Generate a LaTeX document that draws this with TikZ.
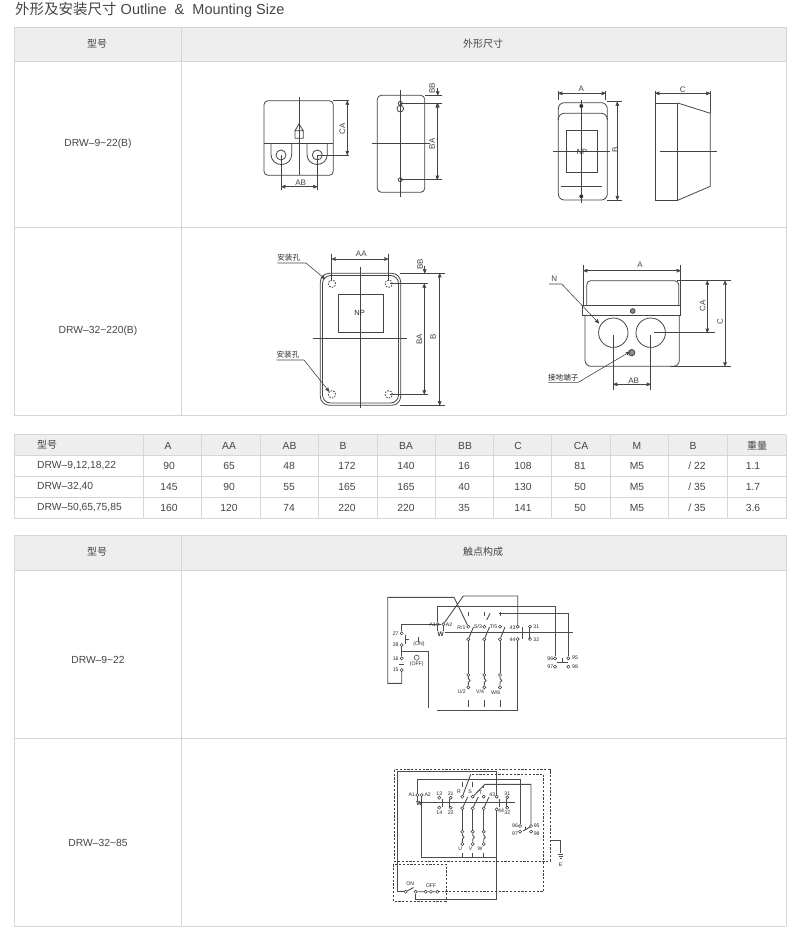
\documentclass[tikz,border=0pt]{standalone}
\usepackage{fontspec}
\setmainfont{Liberation Sans}
\newfontfamily\cjk{Noto Sans CJK SC}
\usetikzlibrary{arrows,positioning}
\definecolor{inkgray}{HTML}{444444}
\definecolor{tablegray}{HTML}{D6D6D6}
\definecolor{headgray}{HTML}{EEEEEE}
\tikzset{part/.style={draw=inkgray,line width=0.8pt},
         center line/.style={draw=inkgray,line width=0.6pt},
         ext line/.style={draw=inkgray,line width=0.5pt},
         dim line/.style={draw=inkgray,line width=0.6pt,<->,>=stealth'},
         leader/.style={draw=inkgray,line width=0.6pt,->,>=stealth'},
         dim label/.style={font=\fontsize{8}{8}\selectfont,text=inkgray,inner sep=0pt},
         np label/.style={font=\fontsize{7.5}{8}\selectfont,text=black!85,inner sep=0pt},
         cjk label/.style={font=\cjk\fontsize{7.6}{8}\selectfont,text=black!85,inner sep=0pt},
         table line/.style={draw=tablegray,line width=0.8pt},
         table text/.style={font=\fontsize{10.3}{10}\selectfont,text=inkgray,inner sep=0pt},
         table cjk/.style={font=\cjk\fontsize{10}{10}\selectfont,text=inkgray,inner sep=0pt},
         wire/.style={draw=black!70,line width=0.9pt},
         dash box/.style={draw=black!75,line width=0.8pt,dash pattern=on 2.2pt off 1.6pt},
         term/.style={circle,draw=black!80,fill=white,line width=0.5pt,minimum size=3.2pt,inner sep=0pt},
         tiny label/.style={font=\fontsize{5.2}{5}\selectfont,text=black!85,inner sep=0pt},
}
\begin{document}
\begin{tikzpicture}[x=1pt,y=-1pt]
\useasboundingbox (0,0) rectangle (800,941);
% title
\node[anchor=west,inner sep=0pt,text=inkgray,font=\fontsize{14.5}{15}\selectfont] (title) at (15,10)
    {{\cjk 外形及安装尺寸} Outline\ \ \&\ \ Mounting Size};
% the three tables
\fill[headgray] (14,27) rectangle (786,61);
\fill[headgray] (14,435) rectangle (786,455.5);
\fill[headgray] (14,535) rectangle (786,570);
\foreach \y in {27,61,227,415,535,570,738,926}
    \draw[table line] (14,\y) -- (786,\y);
\draw[table line] (14,27) -- (14,415) (181,27) -- (181,415) (786,27) -- (786,415);
\draw[table line] (14,535) -- (14,926) (181,535) -- (181,926) (786,535) -- (786,926);
\foreach \y in {434.5,455.5,476.5,497.5,518.5}
    \draw[table line] (14,\y) -- (786,\y);
\foreach \x in {14,143.5,201.5,260,318.5,377,435.5,493.5,551.5,610.5,668.5,727,786}
    \draw[table line] (\x,434.5) -- (\x,518.5);
\node[table cjk] (headA) at (97,44) {型号};
\node[table cjk] (headB) at (483,44) {外形尺寸};
\node[table cjk] (headC) at (97,551.5) {型号};
\node[table cjk] (headD) at (483,551.5) {触点构成};
\node[table text] (typeA) at (98,143.5) {DRW–9\textasciitilde22(B)};
\node[table text] (typeB) at (98,331) {DRW–32\textasciitilde220(B)};
\node[table text] (typeC) at (98,660) {DRW–9\textasciitilde22};
\node[table text] (typeD) at (98,843) {DRW–32\textasciitilde85};
% size table
\node[table cjk,anchor=west] (rowA) at (37,445) {型号};
\node[table text,anchor=west] (rowB) at (37,466) {DRW–9,12,18,22};
\node[table text,anchor=west] (rowC) at (37,487) {DRW–32,40};
\node[table text,anchor=west] (rowD) at (37,508) {DRW–50,65,75,85};
\foreach \lab/\x [count=\i] in {A/168,AA/229,AB/289.5,B/343,BA/406,BB/465,C/518,CA/581,M/637,B/693}
    \node[table text] (hd\i) at (\x,445.5) {\lab};
\node[table cjk] (hd11) at (757,445.5) {重量};
\foreach \a/\b/\c/\d/\e/\f/\g/\h/\m/\n/\w/\y [count=\r] in
    {90/65/48/172/140/16/108/81/M5/{/ 22}/1.1/466,
     145/90/55/165/165/40/130/50/M5/{/ 35}/1.7/487,
     160/120/74/220/220/35/141/50/M5/{/ 35}/3.6/508}{
    \node[table text] (v\r a) at (169,\y) {\a};
    \node[table text] (v\r b) at (229,\y) {\b};
    \node[table text] (v\r c) at (289,\y) {\c};
    \node[table text] (v\r d) at (347,\y) {\d};
    \node[table text] (v\r e) at (406,\y) {\e};
    \node[table text] (v\r f) at (464,\y) {\f};
    \node[table text] (v\r g) at (523,\y) {\g};
    \node[table text] (v\r h) at (580,\y) {\h};
    \node[table text] (v\r m) at (637,\y) {\m};
    \node[table text] (v\r n) at (697,\y) {\n};
    \node[table text] (v\r w) at (753,\y) {\w};
}
% DRW-9~22(B), left view
\draw[part,rounded corners=4pt] (264,100.7) rectangle (333.3,175.3);
\draw[part] (264,143.3) -- (333.3,143.3);
\draw[part,rounded corners=10pt] (271,143.3) -- (271,164.5) -- (291.7,164.5) -- (291.7,143.3);
\draw[part,rounded corners=10pt] (307,143.3) -- (307,164.5) -- (327.3,164.5) -- (327.3,143.3);
\draw[part] (281,155) circle (5pt) (317.3,155) circle (5pt);
\draw[part] (295,130.7) -- (299,124) -- (303.3,130.7) -- cycle (295,130.7) rectangle (303.3,138.3);
\draw[center line] (299,97) -- (299,175);
\draw[ext line] (281.3,155) -- (281.3,190) (317.3,155) -- (317.3,190);
\draw[ext line] (333,100.7) -- (348.5,100.7) (317.3,155) -- (348.5,155);
\draw[dim line] (281.3,186.7) -- (317.3,186.7);
\draw[dim line] (347.3,100.7) -- (347.3,155);
\node[dim label] (abA) at (300.7,182.3) {AB};
\node[dim label,rotate=90] (caA) at (342.3,129) {CA};
% DRW-9~22(B), second view
\draw[part,rounded corners=4pt] (377.3,95.3) rectangle (424.7,192.3);
\draw[center line] (400.3,90) -- (400.3,197.3) (371.7,143.7) -- (430,143.7);
\draw[part] (400.3,103.3) circle (2pt) (400.3,108.7) circle (3.3pt) (400.3,179.7) circle (2pt);
\draw[ext line] (400.3,103.3) -- (441.7,103.3) (400.3,179.7) -- (441.7,179.7) (424.7,95.3) -- (441.7,95.3);
\draw[dim line] (437.3,103.3) -- (437.3,179.7);
\draw[leader] (437.7,88) -- (437.7,95.3);
\draw[leader] (437.7,110) -- (437.7,103.3);
\node[dim label,rotate=90] (bbA) at (432,88.3) {BB};
\node[dim label,rotate=90] (baA) at (432,144) {BA};
% DRW-9~22(B), front
\draw[part,rounded corners=6pt] (558.3,102.7) rectangle (607.3,200);
\draw[part,rounded corners=6pt] (558.3,120) -- (558.3,113.3) -- (607.3,113.3) -- (607.3,120);
\draw[part] (566,130.3) rectangle (597.3,172);
\draw[part] (561,186.7) -- (602,186.7);
\draw[center line] (581.3,100) -- (581.3,203.3) (553.3,151) -- (610,151);
\fill[black!80] (581.3,106) circle (2pt) (581.3,196.3) circle (2pt);
\node[np label] (npA) at (582,151.7) {NP};
\draw[ext line] (558.3,90.7) -- (558.3,100) (605.7,90.7) -- (605.7,100);
\draw[ext line] (607,101.7) -- (621.7,101.7) (607,200) -- (621.7,200);
\draw[dim line] (558.3,93.3) -- (605.7,93.3);
\draw[dim line] (617.3,101.7) -- (617.3,200);
\node[dim label] (aA) at (581.3,89) {A};
\node[dim label,rotate=90] (bA) at (615,150) {B};
% DRW-9~22(B), side
\draw[part] (655.3,103) rectangle (677.7,200.3);
\draw[part] (677.7,103) -- (710.3,113.3) -- (710.3,186.3) -- (677.7,200.3);
\draw[center line] (659.7,151.7) -- (717,151.7);
\draw[ext line] (655.3,90.7) -- (655.3,103) (710.3,90.7) -- (710.3,113.3);
\draw[dim line] (655.3,93.3) -- (710.3,93.3);
\node[dim label] (cA) at (682.7,90) {C};
% DRW-32~220(B), left view
\draw[part,rounded corners=9pt] (320.3,273.3) rectangle (400.7,405.3);
\draw[part,rounded corners=8pt] (322.5,275.5) rectangle (398.5,403);
\draw[part] (338,294.3) rectangle (383.7,332.7);
\draw[center line] (360.7,266.7) -- (360.7,408.3) (313.3,338.3) -- (407.3,338.3);
\node[np label] (npB) at (359.7,313.3) {NP};
\foreach \x/\y in {332/283.7,388.7/283.7,332/394.3,388.7/394.3}
    \draw[part,dash pattern=on 1.6pt off 1.2pt] (\x,\y) circle (3.7pt);
\draw[ext line] (331.7,253.7) -- (331.7,281) (388.3,253.7) -- (388.3,281);
\draw[ext line] (400,273.3) -- (445,273.3) (400,405.3) -- (445,405.3);
\draw[ext line] (390,283.7) -- (428.3,283.7) (390,394.3) -- (428.3,394.3);
\draw[dim line] (331.7,259) -- (388.3,259);
\draw[dim line] (424.3,283.7) -- (424.3,394.3);
\draw[dim line] (439.7,273.3) -- (439.7,405.3);
\draw[leader] (424.7,266) -- (424.7,273.3);
\node[dim label] (aaB) at (361.3,253.3) {AA};
\node[dim label,rotate=90] (bbB) at (420,264.3) {BB};
\node[dim label,rotate=90] (baB) at (419.3,339) {BA};
\node[dim label,rotate=90] (bB) at (433,337) {B};
\node[cjk label] (holeA) at (288.7,258) {安装孔};
\node[cjk label] (holeB) at (288,354.3) {安装孔};
\draw[leader] (277.3,263) -- (306,263) -- (325,279);
\draw[leader] (276.7,360) -- (304,360) -- (329.3,391.7);
% DRW-32~220(B), right view
\draw[part,rounded corners=4pt] (586.7,305.7) -- (586.7,280.7) -- (678.7,280.7) -- (678.7,305.7);
\draw[part] (582.7,305.7) rectangle (680.7,315.7);
\draw[part,rounded corners=6pt] (585,315.7) -- (585,366.3) -- (679.3,366.3) -- (679.3,315.7);
\draw[part] (613.3,332.7) circle (14.7pt) (650.7,332.7) circle (14.7pt);
\draw[part,fill=black!45] (632.7,311) circle (2.4pt) (631.7,352.7) circle (3.2pt);
\draw[ext line] (583.3,265) -- (583.3,305.7) (680.7,265) -- (680.7,305.7);
\draw[ext line] (677,280.7) -- (730.7,280.7) (654,332.7) -- (715,332.7) (670,366.3) -- (730.7,366.3);
\draw[ext line] (613.3,335) -- (613.3,390) (650.7,335) -- (650.7,390);
\draw[dim line] (583.3,270.7) -- (680.7,270.7);
\draw[dim line] (707.3,280.7) -- (707.3,332.7);
\draw[dim line] (725,280.7) -- (725,366.3);
\draw[dim line] (613.3,384.3) -- (650.7,384.3);
\node[dim label] (aB) at (640,265) {A};
\node[dim label,rotate=90] (caB) at (702.7,305.7) {CA};
\node[dim label,rotate=90] (cB) at (720,321.7) {C};
\node[dim label] (abB) at (633.7,381) {AB};
\node[dim label] (nB) at (554.3,279) {N};
\node[cjk label] (gndB) at (563.3,377.3) {接地端子};
\draw[leader] (549,284) -- (561.7,284) -- (599,323.3);
\draw[leader] (548.3,382.3) -- (578.3,382.3) -- (630,351.7);
% contact diagram DRW-9~22
\foreach \name/\x/\y in {p27/401.7/633.3,p28/401.7/645,p16/401.7/658.3,p15/401.7/670,
    pa/437.7/624.3,pb/443.3/624.3,pr/468.3/626.7,ps/484.3/626.7,pt/500/626.7,
    pu/468.3/639.3,pv/484.3/639.3,pw/500/639.3,
    pe/468.3/675,pf/484.3/675,pg/500/675,ph/468.3/687.3,pi/484.3/687.3,pj/500/687.3,
    p43/517.7/626.7,p44/517.7/639,p31/530/626.7,p32/530/639,
    p96/555/658.3,p95/568.3/658.3,p97/555/666.7,p98/568.3/666.7}
    \node[term] (\name) at (\x,\y) {};
\node[term,minimum size=5pt] (poff) at (416.7,657.7) {};
\draw[wire] (p15) |- (387.7,683.3) -- (387.7,597.3) -- (454,597.3) -- (pr);
\draw[wire] (p27) |- (pb);
\draw[wire] (pa) |- (555,606.7) -- (p96);
\draw[wire] (pb) -- (463.3,596) -| (p43);
\draw[wire] (499,613.3) -| (p95);
\draw[wire] (p44) |- (436.7,710);
\draw[wire] (401.7,651.7) -| (428.3,708.3);
\draw[wire] (p28) -- (p16);
\draw[wire] (405,634.5) -- (405,644) (405,639.5) -- (408.5,639.5) (418.3,636.7) -- (418.3,641.7);
\draw[wire] (399,664) -- (404,664);
\draw[wire] (pa) -- (437.7,631) (pb) -- (443.3,631) (445,632.7) -- (572.7,632.7);
\draw[wire] (pu) -- (473.5,627) (pv) -- (489.5,627) (pw) -- (505,627);
\foreach \a/\b/\c/\d in {pu/pe/pe/ph,pv/pf/pf/pi,pw/pg/pg/pj}{
    \draw[wire] (\a) -- (\b);
    \draw[wire] (\c) -- ++(0,3.5) -- ++(1.8,2) -- ++(-1.8,2) -- (\d);
}
\foreach \x in {468.3,484.3,500}{
    \draw[wire] (\x,611.7) -- (\x,616) (\x,700) -- (\x,707.3);
}
\draw[wire] (486.7,620) -- (490,613.3);
\draw[wire] (522.3,626.7) -- (522.3,639) (529,627) -- (529,639);
\draw[wire] (556.5,662.7) -- (567.5,662.7) (562,658.3) -- (562,662.7);
\node[font=\bfseries\fontsize{6.5}{6.5}\selectfont,text=black!80,inner sep=0pt] (coilA) at (440.7,634.3) {W};
\foreach \lb/\x/\y [count=\i] in {27/395.7/633.3,28/395.7/645,16/395.7/658.3,15/395.7/670,A1/432.5/624.3,A2/449/624.3,
    {R/1}/461.5/627.3,{S/3}/478/626.7,{T/5}/493.5/626.7,43/512.5/627.3,44/512.5/639.5,31/536.3/626.7,32/536.3/639.3,
    96/550.3/658.7,95/575/658,97/550.3/667,98/575/667,{U/2}/461.7/691.7,{V/4}/480/691.7,{W/6}/495.7/692.3,
    (ON)/419/644,(OFF)/416.7/664}
    \node[tiny label] (pl\i) at (\x,\y) {\lb};
% contact diagram DRW-32~85
\foreach \name/\x/\y in {qa/417.3/795,qb/421.7/795,q13/439.3/797.7,q14/439.3/807.7,q21/450.7/797.7,q22/450.7/807.7,
    qr/462.3/796.7,qs/472.7/796.7,qt/483.7/796.7,qu/462.3/808.3,qv/472.7/808.3,qw/483.7/808.3,
    qe/462.3/831.7,qf/472.7/831.7,qg/483.7/831.7,qh/462.3/844,qi/472.7/844,qj/483.7/844,
    q43/496.7/796.7,q44/496.7/809.3,q31/507.3/797.3,q32/507.3/807.7,
    q96/520/826,q95/531/826,q97/520/831.7,q98/531/831.7,
    qon/405.7/891.7,qoa/415.7/891.7,qob/425.7/891.7,qoc/431/891.7,qof/437.3/891.7}
    \node[term] (\name) at (\x,\y) {};
\draw[wire] (qon) -- (397.3,891.7) |- (496.7,771.7) -- (q43);
\draw[wire] (qa) |- (520,779) -- (q96);
\draw[wire] (421.7,803) |- (496.7,857.7) -- (q44);
\draw[wire] (qb) -- (421.7,802) (qa) -- (417.3,802) (419,802.7) -- (515,802.7);
\draw[wire] (qoa) -- (415.7,899.3) -| (496.7,857.7);
\draw[wire] (qon) -- (413.5,887.5) (qoa) -- (qob) (qob) -- (qoc) (qoc) -- (qof);
\draw[wire] (470.7,774.3) -- (qr);
\draw[wire] (qs) -- (485,784.3) -| (q95);
\draw[wire] (qu) -- (467.7,797) (qv) -- (478.3,797) (qw) -- (489,797);
\foreach \a/\b/\c/\d in {qu/qe/qe/qh,qv/qf/qf/qi,qw/qg/qg/qj}{
    \draw[wire] (\a) -- (\b);
    \draw[wire] (\c) -- ++(0,3.5) -- ++(1.6,2) -- ++(-1.6,2) -- (\d);
}
\foreach \x in {462.3,472.7}
    \draw[wire] (\x,781.7) -- (\x,787);
\foreach \x in {462.3,472.7,483.7}
    \draw[wire] (\x,853.3) -- (\x,857);
\draw[wire] (483.7,785) -- (483.7,788);
\draw[wire] (442,798.5) -- (442,807) (449,798.5) -- (449,807) (499.5,798.5) -- (499.5,807) (506,798.5) -- (506,807);
\draw[wire] (523,831) -- (530,827) (525.5,826.5) -- (525.5,830);
\draw[wire] (550,840) -- (560.7,840) -- (560.7,853.3) (558,854.3) -- (563.4,854.3) (558.8,856) -- (562.6,856) (559.8,858) -- (561.6,858);
\draw[dash box] (394.3,769.7) rectangle (550,861);
\draw[dash box] (471.7,774) -| (543.3,891.7) -- (438.3,891.7);
\draw[dash box] (393.3,864.3) rectangle (446,901);
\node[font=\bfseries\fontsize{6}{6}\selectfont,text=black!80,inner sep=0pt] (coilB) at (419.3,803.3) {W};
\foreach \lb/\x/\y [count=\i] in {A1/411.7/795,A2/427.7/795,13/439.3/793.5,14/439.3/813,21/450.7/793.5,22/450.7/813,
    R/459/792,S/470/792,T/480.7/793,43/492.3/795,44/501/811,31/507.3/793.5,32/507.3/813,
    96/515/825.7,95/536.7/825.7,97/515/834,98/536.7/834,U/460.3/848.3,V/470.7/848.3,W/480/848.3,
    E/560.7/864.3,ON/410.3/883.7,OFF/431/885.7}
    \node[tiny label] (ql\i) at (\x,\y) {\lb};
\end{tikzpicture}
\end{document}
